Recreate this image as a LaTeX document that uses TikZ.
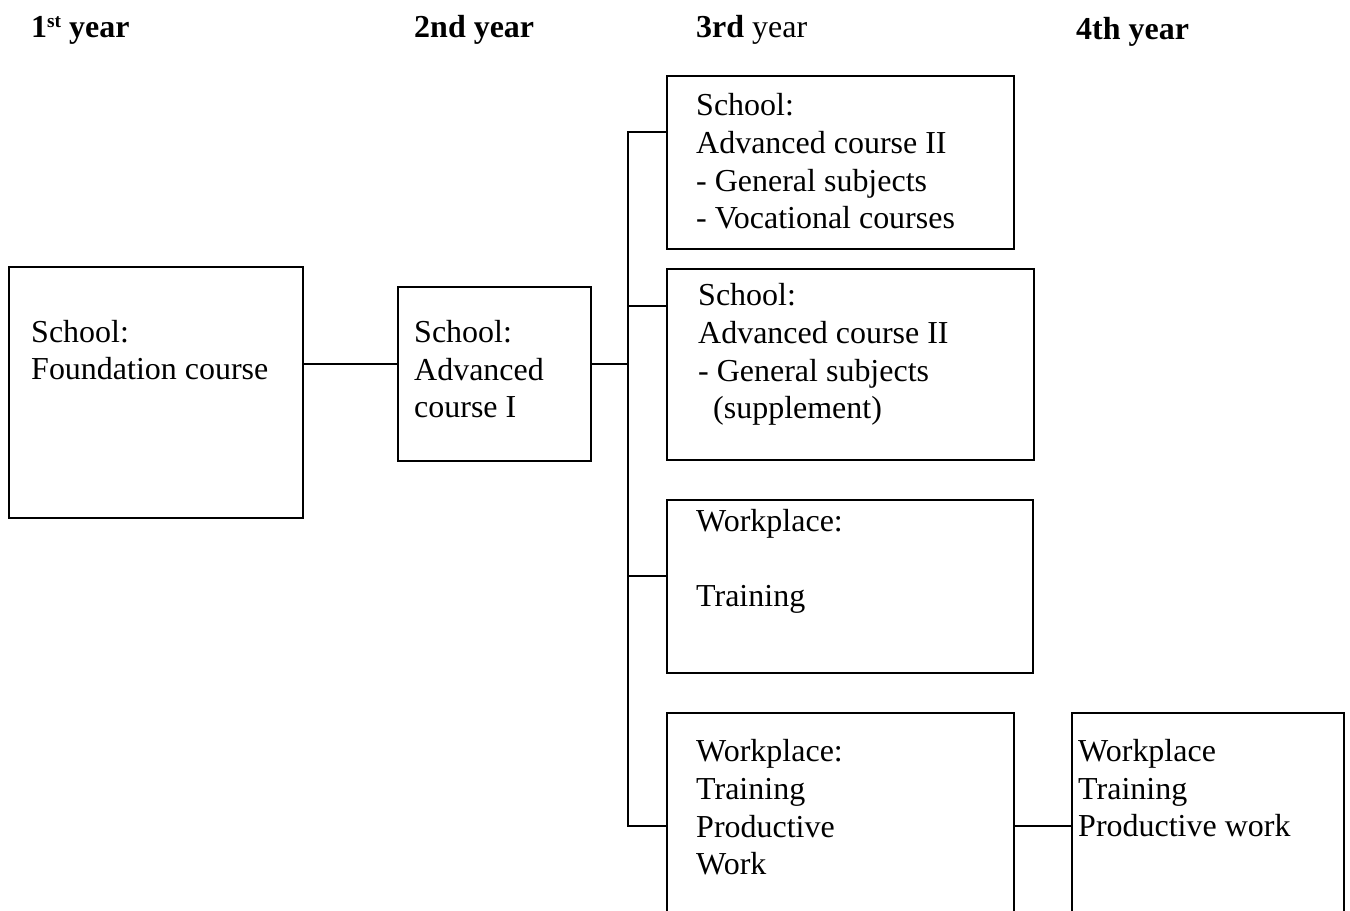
\documentclass[tikz,border=0pt]{standalone}
\usepackage{fontspec}
\setmainfont{Liberation Serif}
\begin{document}
\begin{tikzpicture}[x=0.02cm, y=-0.02cm, line width=1.4pt, font=\fontsize{18.2}{21.6}\selectfont,
  box/.style={draw, rectangle, inner sep=0pt, anchor=north west},
  txt/.style={anchor=base west, align=left, inner sep=0pt},
  head/.style={anchor=base west, inner sep=0pt}]
\useasboundingbox (0,0) rectangle (1350,911);
\clip (0,0) rectangle (1350,911);
% year headings
\node[head] (y1) at (30,38) {\bfseries 1{\fontsize{11}{12}\selectfont\raisebox{6pt}{st}} year};
\node[head] (y2) at (413,38) {\bfseries 2nd year};
\node[head] (y3) at (695,38) {\textbf{3rd} year};
\node[head] (y4) at (1075,40) {\bfseries 4th year};
% boxes
\node[box, minimum width=5.88cm, minimum height=5.02cm] (found) at (8,266) {};
\node[box, minimum width=3.86cm, minimum height=3.48cm] (advI) at (397,286) {};
\node[box, minimum width=6.94cm, minimum height=3.46cm] (advII) at (666,75) {};
\node[box, minimum width=7.34cm, minimum height=3.82cm] (supp) at (666,268) {};
\node[box, minimum width=7.32cm, minimum height=3.46cm] (train) at (666,499) {};
\node[box, minimum width=6.94cm, minimum height=4.8cm] (prod) at (666,712) {};
\node[box, minimum width=5.44cm, minimum height=4.8cm] (work) at (1071,712) {};
% texts (anchored at the baseline of the last line)
\node[txt] (t1) at (30,380) {School:\\Foundation course};
\node[txt] (t2) at (413,418) {School:\\Advanced\\course I};
\node[txt] (t3) at (695,229) {School:\\Advanced course II\\- General subjects\\- Vocational courses};
\node[txt] (t4) at (697,419) {School:\\Advanced course II\\- General subjects\\\hspace*{0.3cm}(supplement)};
\node[txt] (t5) at (695,607) {Workplace:\\[21.6pt]Training};
\node[txt] (t6) at (695,875) {Workplace:\\Training\\Productive\\Work};
\node[txt] (t7) at (1077,837) {Workplace\\Training\\Productive work};
% connectors
\coordinate (j0) at (628,364);
\coordinate (j1) at (628,132);
\coordinate (j2) at (628,306);
\coordinate (j3) at (628,576);
\coordinate (j4) at (628,826);
\draw (found.east |- j0) -- (advI.west |- j0);
\draw (advI.east |- j0) -- (j0);
\draw (advII.west |- j1) -- (j1) -- (j4) -- (prod.west |- j4);
\draw (j2) -- (supp.west |- j2);
\draw (j3) -- (train.west |- j3);
\draw (prod.east |- j4) -- (work.west |- j4);
\end{tikzpicture}
\end{document}
